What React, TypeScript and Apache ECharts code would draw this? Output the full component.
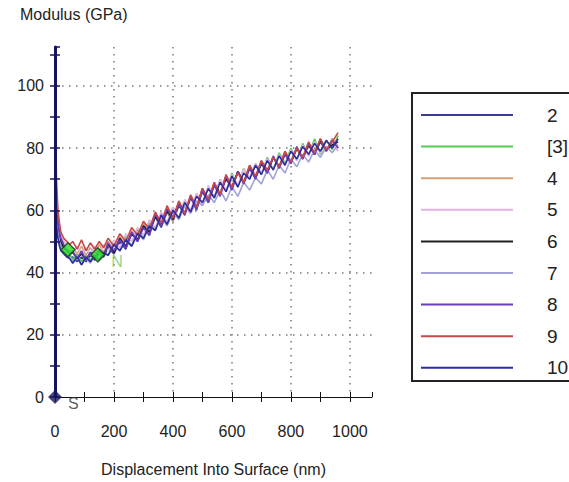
import React, { useEffect, useRef } from "react";
import * as echarts from "echarts";

// Displacement into surface (nm) sample positions shared by all curves
const displacement = [
  2, 5, 10, 15, 20, 30, 40, 50,
  60, 75, 90, 105, 120, 135, 150, 165,
  180, 200, 220, 240, 260, 280, 300, 320,
  340, 360, 380, 400, 420, 440, 460, 480,
  500, 520, 540, 560, 580, 600, 620, 640,
  660, 680, 700, 720, 740, 760, 780, 800,
  820, 840, 860, 880, 900, 920, 940, 960,
];

// Modulus (GPa) for each test
const test2 = [
  70, 60, 54, 51, 49, 47, 46, 45,
  45, 43.5, 45, 43.5, 45.5, 44, 46, 45,
  48, 46, 50, 47.5, 52.5, 50, 55, 52,
  58, 54.5, 59.5, 56.5, 61.5, 58.5, 64, 60.5,
  66, 62.5, 68.5, 65, 71, 67, 72.5, 69,
  74, 70.5, 75.5, 72, 77, 74, 78.5, 75.5,
  80, 76.5, 81, 78, 82, 79, 83, 80,
];
const test3 = [
  66, 58, 53, 50, 48, 47, 46.5, 46,
  44, 46, 43.5, 45.5, 44, 46.5, 44.5, 47,
  45.5, 49.5, 47, 51.5, 48.5, 54, 51, 56,
  54, 59, 56, 61, 57.5, 63, 59.5, 65,
  62, 67.5, 64, 70, 66, 72, 67.5, 73.5,
  70, 75, 71.5, 77, 73, 78.5, 75, 80,
  76, 81.5, 77.5, 83, 78, 82.5, 79.5, 84,
];
const test4 = [
  72, 62, 56, 52, 50, 48.5, 47.5, 47,
  48, 46, 48.5, 45.5, 48, 46, 49, 46.5,
  50, 47, 51.5, 48.5, 53.5, 50.5, 56, 52.5,
  58.5, 55, 60, 56.5, 63, 59, 64.5, 60.5,
  67, 63, 69, 65.5, 70.5, 67, 72.5, 69,
  74.5, 70.5, 76, 72.5, 77, 74, 79, 75,
  80, 76.5, 81.5, 78, 82.5, 79, 83, 80.5,
];
const test5 = [
  74, 64, 57, 54, 52, 50, 49, 48,
  46.5, 48.5, 46, 48, 45.5, 48.5, 46, 49,
  47, 50.5, 48, 52.5, 50, 54.5, 52, 57,
  54.5, 59.5, 56, 61, 57.5, 63.5, 60, 65.5,
  62, 68, 64, 70, 66.5, 71.5, 68, 73.5,
  70.5, 75, 72, 76.5, 73, 78, 74.5, 79.5,
  76, 81, 77.5, 82, 78.5, 80, 81.5, 79,
];
const test6 = [
  68, 61, 55, 52, 50, 48, 47, 46,
  46.5, 44.5, 46, 44, 46.5, 44.5, 47, 45.5,
  49, 46.5, 51, 48.5, 52.5, 50.5, 55, 53,
  58, 55, 60, 57, 62.5, 59, 64.5, 61,
  67, 63, 68.5, 65.5, 70, 67.5, 72.5, 69,
  73.5, 70.5, 75, 72, 77, 74, 78, 75.5,
  80, 77, 81, 78, 82.5, 79.5, 81, 82,
];
const test7 = [
  65, 57, 53, 50, 48.5, 47, 46, 45,
  43.5, 45, 42.5, 44.5, 43, 45.5, 44, 46.5,
  45.5, 49, 47, 50.5, 48.5, 53, 50.5, 55.5,
  53.5, 58, 55, 59.5, 57, 61.5, 59, 63,
  61.5, 65, 62.5, 66.5, 63, 67.5, 64.5, 69,
  66.5, 70.5, 68.5, 73, 70, 74.5, 72, 76.5,
  74, 78, 75.5, 79.5, 77, 80.5, 78.5, 81,
];
const test8 = [
  76, 63, 56, 53, 51, 49, 47.5, 46.5,
  47, 44.5, 47, 44, 46.5, 45, 47.5, 45.5,
  49.5, 47, 50.5, 48, 53, 50, 54.5, 52,
  59, 55, 60.5, 57.5, 62, 58.5, 64.5, 60,
  66.5, 62.5, 68, 64.5, 71, 66.5, 72.5, 68.5,
  73.5, 70, 75.5, 72, 77.5, 73.5, 78, 75,
  80.5, 76.5, 81.5, 78, 83, 79, 82.5, 80,
];
const test9 = [
  83, 70, 60, 56, 53, 51, 50, 49,
  50, 47.5, 50.5, 47, 49.5, 47.5, 50, 48,
  51, 48.5, 52.5, 50, 54.5, 52, 56.5, 54,
  59.5, 56, 61.5, 57.5, 63, 59, 65, 61,
  67, 63.5, 69, 65, 71.5, 67.5, 72, 69,
  74.5, 71, 76, 73, 77, 74, 79, 75.5,
  80, 77, 82, 78.5, 83, 79.5, 82, 85,
];
const test10 = [
  62, 55, 51, 48.5, 47, 46, 45, 44.5,
  43, 45, 42.5, 45, 43.5, 45.5, 44, 46.5,
  45.5, 49, 47, 50.5, 48.5, 52.5, 51, 55,
  53.5, 58.5, 55.5, 60, 57.5, 62.5, 59.5, 64.5,
  62.5, 67, 64, 69, 66, 71, 67.5, 72,
  70, 74.5, 71.5, 76, 73, 77.5, 74.5, 79,
  76.5, 80.5, 78, 81.5, 79, 82.5, 80, 83,
];

const seriesNames = ["2", "[3]", "4", "5", "6", "7", "8", "9", "10"];
const seriesValues = [test2, test3, test4, test5, test6, test7, test8, test9, test10];
const seriesColors = [
  "#3c3c8c", "#55cc55", "#d4a07a", "#e3b3e3", "#222222",
  "#a2a2d6", "#6a3cc0", "#c84848", "#2c2ca0",
];

const xTickLabels = [0, 200, 400, 600, 800, 1000];
const yTickLabels = [0, 20, 40, 60, 80, 100];

// Annotation markers
const greenDiamonds = [[44, 47.3], [145, 45.7]];
const originMarker = [0, 0];
const nMarker = [210, 43.4];

const FONT = "Liberation Sans, Arial, sans-serif";
const X_MAX = 1075;
const Y_MAX = 112.5;

export default function App() {
  const ref = useRef<HTMLDivElement>(null);

  useEffect(() => {
    if (!ref.current) return;
    const chart = echarts.init(ref.current, null, { renderer: "svg" });

    const lineSeries = seriesNames.map((name, i) => ({
      name,
      type: "line",
      xAxisIndex: 0,
      yAxisIndex: 0,
      data: displacement.map((x, j) => [x, seriesValues[i][j]]),
      showSymbol: false,
      symbol: "none",
      lineStyle: { color: seriesColors[i], width: 1.6 },
      itemStyle: { color: seriesColors[i] },
      z: 3 + i,
    }));

    const option: any = {
      animation: false,
      backgroundColor: "#ffffff",
      grid: { left: 55, top: 47, right: 197, bottom: 85, containLabel: false },
      graphic: [
        {
          type: "text",
          left: 20,
          top: 6,
          style: { text: "Modulus (GPa)", font: `16px ${FONT}`, fill: "#222" },
        },
        {
          type: "rect",
          shape: { x: 412, y: 93, width: 200, height: 288 },
          style: { fill: "none", stroke: "#222", lineWidth: 2 },
          z: 1,
        },
      ],
      legend: {
        data: seriesNames,
        orient: "vertical",
        left: 416,
        top: 100,
        itemWidth: 92,
        itemHeight: 2,
        itemGap: 11.6,
        icon: "rect",
        selectedMode: false,
        textStyle: {
          fontSize: 19,
          lineHeight: 20,
          fontFamily: FONT,
          color: "#222",
          padding: [0, 0, 0, 29],
        },
      },
      xAxis: [
        {
          type: "value",
          min: 0,
          max: X_MAX,
          interval: 100,
          axisLine: { show: true, onZero: false, lineStyle: { color: "#111", width: 1 } },
          axisTick: { show: true, inside: false, length: 5, lineStyle: { color: "#111" } },
          axisLabel: {
            margin: 26,
            fontSize: 16,
            fontFamily: FONT,
            color: "#222",
            showMaxLabel: false,
            formatter: (v: number) => (xTickLabels.includes(v) ? String(v) : ""),
          },
          splitLine: { show: false },
          name: "Displacement Into Surface (nm)",
          nameLocation: "middle",
          nameGap: 64,
          nameTextStyle: { fontSize: 16, fontFamily: FONT, color: "#222" },
        },
        {
          type: "value",
          min: 0,
          max: X_MAX,
          interval: 100,
          position: "bottom",
          axisLine: { show: false },
          axisTick: { show: true, inside: true, length: 5, lineStyle: { color: "#111" } },
          axisLabel: { show: false },
          splitLine: { show: false },
        },
        {
          type: "value",
          min: 0,
          max: X_MAX,
          interval: 200,
          position: "bottom",
          axisLine: { show: false },
          axisTick: { show: false },
          axisLabel: { show: false },
          splitLine: {
            show: true,
            showMinLine: false,
            showMaxLine: false,
            lineStyle: { color: "#777", width: 1.5, type: [1.5, 5.5] },
          },
        },
      ],
      yAxis: [
        {
          type: "value",
          min: 0,
          max: Y_MAX,
          interval: 10,
          axisLine: { show: true, onZero: false, lineStyle: { color: "#15155e", width: 3 } },
          axisTick: { show: true, inside: false, length: 5, lineStyle: { color: "#15155e", width: 1.5 } },
          axisLabel: {
            margin: 11,
            fontSize: 16,
            fontFamily: FONT,
            color: "#222",
            showMaxLabel: false,
            formatter: (v: number) => (yTickLabels.includes(v) ? String(v) : ""),
          },
          splitLine: { show: false },
          z: 20,
        },
        {
          type: "value",
          min: 0,
          max: Y_MAX,
          interval: 10,
          position: "left",
          axisLine: { show: false },
          axisTick: { show: true, inside: true, length: 5, lineStyle: { color: "#15155e", width: 1.5 } },
          axisLabel: { show: false },
          splitLine: { show: false },
          z: 20,
        },
        {
          type: "value",
          min: 0,
          max: Y_MAX,
          interval: 20,
          position: "left",
          axisLine: { show: false },
          axisTick: { show: false },
          axisLabel: { show: false },
          splitLine: {
            show: true,
            showMinLine: false,
            showMaxLine: false,
            lineStyle: { color: "#777", width: 1.5, type: [1.5, 5.5] },
          },
        },
      ],
      series: [
        ...lineSeries,
        {
          name: "markers",
          type: "scatter",
          xAxisIndex: 0,
          yAxisIndex: 0,
          clip: false,
          z: 30,
          symbol: "diamond",
          symbolSize: 14,
          itemStyle: { color: "#2ee82e", borderColor: "#1c3a1c", borderWidth: 1.5 },
          data: greenDiamonds,
        },
        {
          name: "origin",
          type: "scatter",
          xAxisIndex: 0,
          yAxisIndex: 0,
          clip: false,
          z: 31,
          symbol: "diamond",
          symbolSize: 14,
          itemStyle: { color: "#15155e" },
          label: {
            show: true,
            position: "right",
            offset: [1, 6],
            formatter: "S",
            fontSize: 16,
            fontFamily: FONT,
            color: "#333",
          },
          data: [originMarker],
        },
        {
          name: "nlabel",
          type: "scatter",
          xAxisIndex: 0,
          yAxisIndex: 0,
          clip: false,
          z: 31,
          symbol: "circle",
          symbolSize: 2,
          itemStyle: { color: "rgba(0,0,0,0)" },
          label: {
            show: true,
            position: "inside",
            formatter: "N",
            fontSize: 16,
            fontFamily: FONT,
            color: "#6ccc6c",
          },
          data: [nMarker],
        },
      ],
    };

    chart.setOption(option);
    return () => chart.dispose();
  }, []);

  return <div ref={ref} style={{ width: 569, height: 482, position: "absolute", left: 0, top: 0 }} />;
}
